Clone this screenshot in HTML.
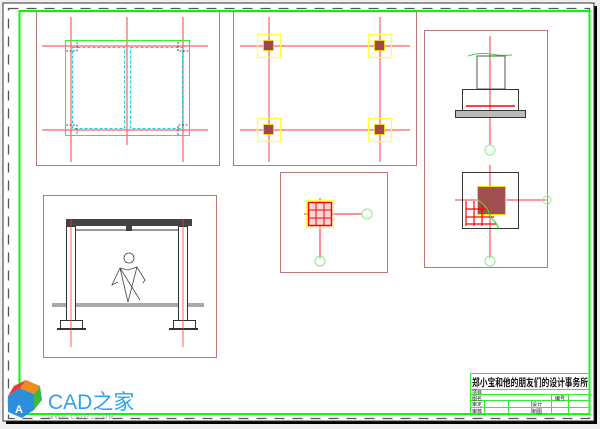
<!DOCTYPE html>
<html><head><style>html,body{margin:0;padding:0;background:#f0f0f0}svg{display:block}</style></head><body>
<svg width="600" height="429" viewBox="0 0 600 429" xmlns="http://www.w3.org/2000/svg" font-family="Liberation Sans, Noto Sans CJK SC, sans-serif">
<rect x="0" y="0" width="600" height="429" fill="#efefef"/>
<rect x="6" y="6" width="591" height="418" fill="#000"/>
<rect x="3" y="3" width="591" height="418" fill="#fff" stroke="#333" stroke-width="1"/>
<rect x="8.5" y="8.5" width="581" height="410" fill="none" stroke="#555" stroke-width="1.3" stroke-dasharray="10,8"/>
<rect x="19.5" y="11" width="570" height="403" fill="none" stroke="#00ff00" stroke-width="2"/>
<g fill="none" stroke="#b87878" stroke-width="1">
<rect x="36.5" y="11.5" width="183" height="154"/>
<rect x="233.5" y="11.5" width="183" height="154"/>
<rect x="424.5" y="30.5" width="123" height="237"/>
<rect x="280.5" y="172.5" width="107" height="100"/>
<rect x="43.5" y="195.5" width="173" height="162"/>
</g>
<!-- panel 1 -->
<g stroke="#ff4444" stroke-width="1.2" opacity="0.85">
<line x1="71" y1="17" x2="71" y2="162"/><line x1="127" y1="17" x2="127" y2="145"/><line x1="183" y1="17" x2="183" y2="162"/>
<line x1="42" y1="46" x2="208" y2="46"/><line x1="42" y1="130" x2="208" y2="130"/>
</g>
<rect x="65.5" y="40.5" width="124" height="95" fill="none" stroke="#33ee33" stroke-width="1"/>
<g fill="none" stroke="#00dddd" stroke-width="1" stroke-dasharray="3,2">
<rect x="72.5" y="47.5" width="52" height="81"/><rect x="130.5" y="47.5" width="52" height="81"/>
</g>
<g fill="none" stroke="#222" stroke-width="0.8" stroke-dasharray="2,1.5">
<path d="M66 51h11v-9M178 42v9h11M66 125h11v10M178 135v-10h11"/>
</g>
<!-- panel 2 -->
<g stroke="#ff4444" stroke-width="1.2" opacity="0.85">
<line x1="269" y1="17" x2="269" y2="162"/><line x1="380" y1="17" x2="380" y2="162"/>
<line x1="240" y1="46" x2="410" y2="46"/><line x1="240" y1="130" x2="410" y2="130"/>
</g>
<g stroke="#ffff44" stroke-width="1.3" fill="none">
<rect x="257.5" y="34.5" width="23" height="23"/><rect x="368.5" y="34.5" width="23" height="23"/>
<rect x="257.5" y="118.5" width="23" height="23"/><rect x="368.5" y="118.5" width="23" height="23"/>
</g>
<g fill="#a04848" stroke="#ffdd00" stroke-width="0.8">
<rect x="263.5" y="40.5" width="10" height="10"/><rect x="374.5" y="40.5" width="10" height="10"/>
<rect x="263.5" y="124.5" width="10" height="10"/><rect x="374.5" y="124.5" width="10" height="10"/>
</g>
<!-- panel 4 -->
<line x1="320" y1="198" x2="320" y2="258" stroke="#ff4444" stroke-width="1.2"/>
<line x1="304" y1="214" x2="362" y2="214" stroke="#ff2222" stroke-width="1"/>
<rect x="306.5" y="200.5" width="27" height="27" fill="none" stroke="#ffff44" stroke-width="1.3"/>
<rect x="308.5" y="202.5" width="23" height="23" fill="#ffd8d8" stroke="#ff0000" stroke-width="1.5"/>
<g stroke="#ff0000" stroke-width="1"><line x1="316" y1="203" x2="316" y2="225"/><line x1="324" y1="203" x2="324" y2="225"/><line x1="309" y1="210" x2="331" y2="210"/><line x1="309" y1="218" x2="331" y2="218"/></g>
<g fill="none" stroke="#88ee88" stroke-width="1"><circle cx="367" cy="214" r="5"/><circle cx="320" cy="261" r="5"/></g>
<!-- panel 3 -->
<line x1="490" y1="36" x2="490" y2="145" stroke="#ff5555" stroke-width="1.2"/>
<path d="M468 56 Q480 52 490 54 Q500 56 512 55" fill="none" stroke="#33dd33" stroke-width="1"/>
<rect x="477" y="56" width="28" height="33" fill="none" stroke="#555" stroke-width="1"/>
<rect x="462.5" y="89.5" width="56" height="21" fill="none" stroke="#333" stroke-width="1"/>
<line x1="466" y1="106" x2="515" y2="106" stroke="#ff0000" stroke-width="1.5"/>
<rect x="455.5" y="110.5" width="70" height="7" fill="#bbb" stroke="#333" stroke-width="1"/>
<circle cx="490" cy="150" r="5" fill="none" stroke="#88ee88"/>
<line x1="490" y1="165" x2="490" y2="258" stroke="#ff5555" stroke-width="1.2"/>
<line x1="455" y1="200" x2="546" y2="200" stroke="#ff3333" stroke-width="1"/>
<rect x="462.5" y="172.5" width="56" height="56" fill="none" stroke="#333" stroke-width="1"/>
<rect x="477.5" y="186.5" width="28" height="28" fill="#a05050" stroke="#eedd00" stroke-width="1"/>
<g stroke="#ff0000" stroke-width="1.2"><line x1="466" y1="201" x2="466" y2="226"/><line x1="474" y1="201" x2="474" y2="226"/><line x1="482" y1="203" x2="482" y2="226"/><line x1="466" y1="209" x2="489" y2="209"/><line x1="466" y1="217" x2="494" y2="217"/><line x1="466" y1="224" x2="497" y2="224"/></g>
<path d="M478 200 Q485 205 488 210 Q490 218 495 222 Q498 226 499 229" fill="none" stroke="#33dd33" stroke-width="1.2"/>
<circle cx="490" cy="261" r="5" fill="none" stroke="#88ee88"/>
<circle cx="547" cy="200" r="4" fill="none" stroke="#88ee88"/>
<!-- panel 5 -->
<rect x="66" y="219" width="126" height="7" fill="#444"/>
<rect x="126" y="226" width="6" height="5" fill="#444"/>
<g fill="none" stroke="#333" stroke-width="1">
<rect x="66.5" y="226.5" width="9" height="94"/><rect x="178.5" y="226.5" width="9" height="94"/>
<line x1="76" y1="230" x2="178" y2="230"/>
<rect x="60.5" y="320.5" width="22" height="8"/><rect x="173.5" y="320.5" width="22" height="8"/>
</g>
<rect x="57" y="328" width="29" height="2" fill="#333"/><rect x="169" y="328" width="29" height="2" fill="#333"/>
<rect x="52" y="303" width="14" height="4" fill="#aaa"/><rect x="76" y="303" width="102" height="4" fill="#aaa"/><rect x="188" y="303" width="16" height="4" fill="#aaa"/>
<g stroke="#ff3333" stroke-width="0.8"><line x1="71" y1="219" x2="71" y2="347"/><line x1="183" y1="219" x2="183" y2="347"/></g>
<g fill="none" stroke="#444" stroke-width="0.8">
<circle cx="129" cy="258" r="5"/>
<path d="M120 268 L112 285 L118 282 M120 268 L128 302 L137 267 L145 280 L143 283 M120 268 L140 300 M137 267 L128 270 L120 268 M137 267 L128 302"/>
</g>
<!-- title block -->
<g fill="none" stroke="#33ee33" stroke-width="1">
<rect x="470.5" y="373.5" width="119" height="40"/>
<line x1="471" y1="389.5" x2="590" y2="389.5"/><line x1="471" y1="394.5" x2="590" y2="394.5"/><line x1="471" y1="400.5" x2="590" y2="400.5"/><line x1="471" y1="407.5" x2="590" y2="407.5"/>
<line x1="484.5" y1="400" x2="484.5" y2="414"/><line x1="508.5" y1="400" x2="508.5" y2="414"/><line x1="531.5" y1="400" x2="531.5" y2="414"/><line x1="551.5" y1="394" x2="551.5" y2="414"/><line x1="568.5" y1="394" x2="568.5" y2="414"/>
</g>
<text x="472" y="386" font-size="10.5" font-weight="bold" fill="#111" textLength="116" lengthAdjust="spacingAndGlyphs">郑小宝和他的朋友们的设计事务所</text>
<g font-size="5" fill="#111">
<text x="472" y="394">项目</text><text x="472" y="400">图名</text><text x="472" y="406">审定</text><text x="472" y="413">审核</text>
<text x="532" y="406">设计</text><text x="532" y="413">制图</text><text x="555" y="400">编号</text>
</g>
<!-- logo -->
<g>
<polygon points="8,396 20,388 34,394 34,410 22,418 8,412" fill="#2d8fdc"/>
<polygon points="20,388 34,394 40,386 26,380" fill="#f08a1c"/>
<polygon points="34,394 40,386 42,400 34,410" fill="#3cb83c"/>
<polygon points="8,396 20,388 26,380 14,386" fill="#e63a2a"/>
<text x="15" y="413" font-size="11" font-weight="bold" fill="#fff">A</text>
</g>
<text x="48" y="409" font-size="21" fill="#29a3ef">CAD之家</text>
<text x="48" y="419" font-size="6" fill="#999" letter-spacing="1">WWW.CADZJ.COM</text>
</svg>
</body></html>
